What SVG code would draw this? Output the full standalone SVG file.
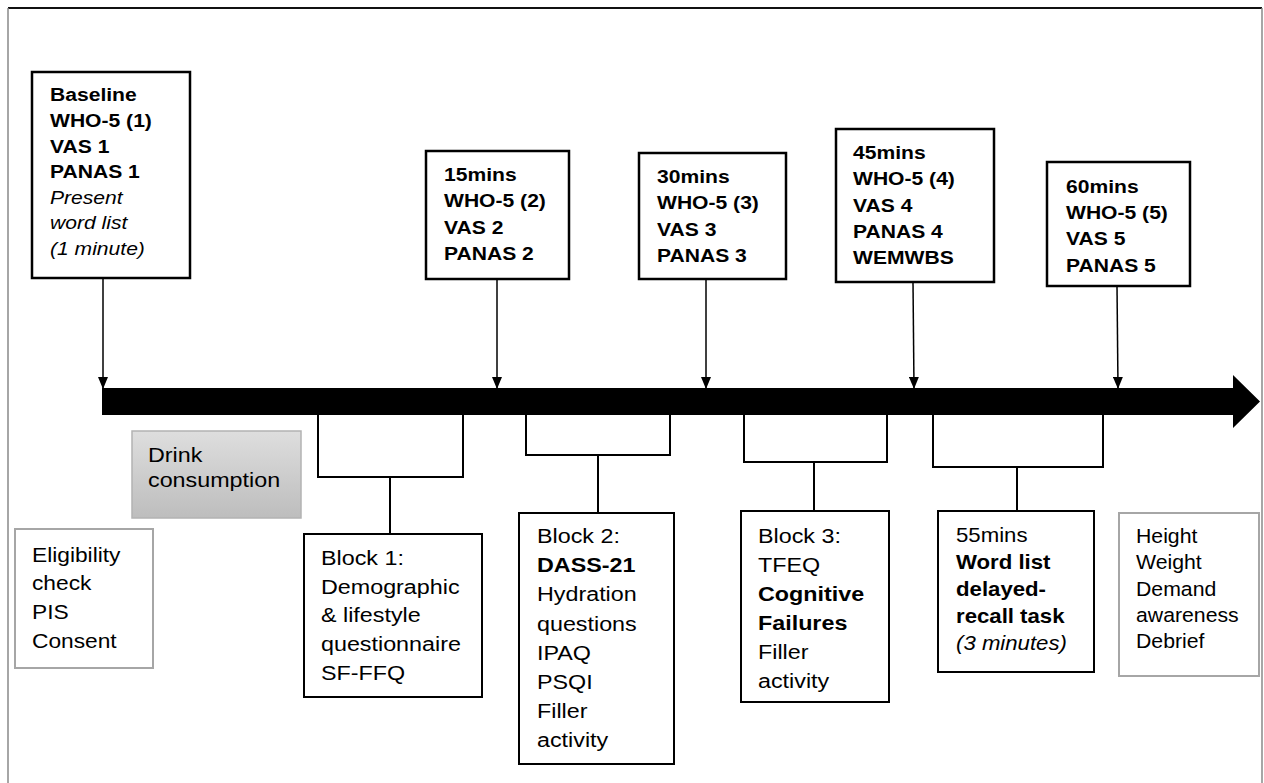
<svg xmlns="http://www.w3.org/2000/svg" width="1264" height="783" viewBox="0 0 1264 783">
<style>
.box{fill:#fff;stroke:#000;stroke-width:2.5}
.box2{fill:#fff;stroke:#000;stroke-width:2}
.gbox{fill:#fff;stroke:#a6a6a6;stroke-width:2}
.conn{fill:none;stroke:#000;stroke-width:2}
.arr{fill:none;stroke:#000;stroke-width:1.5;marker-end:url(#ah)}
text{font-family:"Liberation Sans",Arial,sans-serif;fill:#000}
.tb{font-size:19px;font-weight:bold}
.tr{font-size:21px}
.b{font-weight:bold}
.i{font-style:italic}
</style>
<defs>
<marker id="ah" viewBox="0 0 12 10" refX="12" refY="5" markerWidth="12" markerHeight="10" markerUnits="userSpaceOnUse" orient="auto">
<path d="M0,0 L12,5 L0,10 z" fill="#000"/>
</marker>
<linearGradient id="gd" x1="0" y1="0" x2="0" y2="1">
<stop offset="0" stop-color="#dedede"/>
<stop offset="1" stop-color="#bdbdbd"/>
</linearGradient>
</defs>
<rect width="1264" height="783" fill="#fff"/>
<g id="frame">
<line x1="8" y1="8" x2="1262" y2="8" stroke="#111" stroke-width="2"/>
<line x1="8" y1="8" x2="8" y2="783" stroke="#888" stroke-width="1.5"/>
<line x1="1262" y1="8" x2="1262" y2="783" stroke="#888" stroke-width="1.5"/>
</g>
<g id="timeline">
<polygon points="102,388 1233,388 1233,375 1260,401.5 1233,428 1233,415 102,415" fill="#000"/>
</g>
<g id="connectors">
<line class="arr" x1="103" y1="278" x2="103" y2="389"/>
<line class="arr" x1="497" y1="279" x2="497" y2="389"/>
<line class="arr" x1="706" y1="279" x2="706" y2="389"/>
<line class="arr" x1="913" y1="282" x2="914" y2="389"/>
<line class="arr" x1="1117" y1="286" x2="1118" y2="389"/>
<path class="conn" d="M318,415 V477 H463 V415 M390,477 V534"/>
<path class="conn" d="M526,415 V455 H670 V415 M598,455 V513"/>
<path class="conn" d="M744,415 V462 H887 V415 M814,462 V511"/>
<path class="conn" d="M933,415 V467 H1103 V415 M1017,467 V511"/>
</g>
<g id="baseline">
<rect class="box" x="32" y="72" width="158" height="206"/>
<text class="tb" transform="matrix(1.11 0 0 1 50 0)">
<tspan x="0" y="101.5">Baseline</tspan>
<tspan x="0" y="127">WHO-5 (1)</tspan>
<tspan x="0" y="152.6">VAS 1</tspan>
<tspan x="0" y="178.2">PANAS 1</tspan>
<tspan x="0" y="203.8" font-weight="normal" font-style="italic">Present</tspan>
<tspan x="0" y="229.4" font-weight="normal" font-style="italic">word list</tspan>
<tspan x="0" y="255" font-weight="normal" font-style="italic">(1 minute)</tspan>
</text>
</g>
<g id="m15">
<rect class="box" x="426" y="151" width="143" height="128"/>
<text class="tb" transform="matrix(1.11 0 0 1 444 0)">
<tspan x="0" y="181">15mins</tspan>
<tspan x="0" y="207.5">WHO-5 (2)</tspan>
<tspan x="0" y="234">VAS 2</tspan>
<tspan x="0" y="260.5">PANAS 2</tspan>
</text>
</g>
<g id="m30">
<rect class="box" x="639" y="153" width="147" height="126"/>
<text class="tb" transform="matrix(1.11 0 0 1 657 0)">
<tspan x="0" y="183">30mins</tspan>
<tspan x="0" y="209.5">WHO-5 (3)</tspan>
<tspan x="0" y="236">VAS 3</tspan>
<tspan x="0" y="262.5">PANAS 3</tspan>
</text>
</g>
<g id="m45">
<rect class="box" x="836" y="129" width="158" height="153"/>
<text class="tb" transform="matrix(1.11 0 0 1 853 0)">
<tspan x="0" y="159.3">45mins</tspan>
<tspan x="0" y="185.5">WHO-5 (4)</tspan>
<tspan x="0" y="211.7">VAS 4</tspan>
<tspan x="0" y="237.9">PANAS 4</tspan>
<tspan x="0" y="264">WEMWBS</tspan>
</text>
</g>
<g id="m60">
<rect class="box" x="1047" y="162" width="143" height="124"/>
<text class="tb" transform="matrix(1.11 0 0 1 1066 0)">
<tspan x="0" y="192.7">60mins</tspan>
<tspan x="0" y="219">WHO-5 (5)</tspan>
<tspan x="0" y="245.3">VAS 5</tspan>
<tspan x="0" y="271.7">PANAS 5</tspan>
</text>
</g>
<g id="drink">
<rect x="132" y="431" width="169" height="87" fill="url(#gd)" stroke="#b3b3b3" stroke-width="1.5"/>
<text class="tr" transform="matrix(1.11 0 0 1 148 0)">
<tspan x="0" y="462">Drink</tspan>
<tspan x="0" y="487.5">consumption</tspan>
</text>
</g>
<g id="eligibility">
<rect class="gbox" x="15" y="529" width="138" height="139"/>
<text font-size="20.5" transform="matrix(1.11 0 0 1 32 0)">
<tspan x="0" y="562">Eligibility</tspan>
<tspan x="0" y="590.5">check</tspan>
<tspan x="0" y="619">PIS</tspan>
<tspan x="0" y="648">Consent</tspan>
</text>
</g>
<g id="block1">
<rect class="box2" x="304" y="534" width="178" height="163"/>
<text class="tr" transform="matrix(1.11 0 0 1 321 0)">
<tspan x="0" y="565">Block 1:</tspan>
<tspan x="0" y="593.7">Demographic</tspan>
<tspan x="0" y="622.4">&amp; lifestyle</tspan>
<tspan x="0" y="651">questionnaire</tspan>
<tspan x="0" y="680">SF-FFQ</tspan>
</text>
</g>
<g id="block2">
<rect class="box2" x="519" y="513" width="155" height="251"/>
<text class="tr" transform="matrix(1.11 0 0 1 537 0)">
<tspan x="0" y="543.3">Block 2:</tspan>
<tspan x="0" y="572.4" class="b">DASS-21</tspan>
<tspan x="0" y="601.5">Hydration</tspan>
<tspan x="0" y="630.6">questions</tspan>
<tspan x="0" y="659.7">IPAQ</tspan>
<tspan x="0" y="688.8">PSQI</tspan>
<tspan x="0" y="717.9">Filler</tspan>
<tspan x="0" y="747">activity</tspan>
</text>
</g>
<g id="block3">
<rect class="box2" x="741" y="511" width="148" height="191"/>
<text class="tr" transform="matrix(1.11 0 0 1 758 0)">
<tspan x="0" y="543">Block 3:</tspan>
<tspan x="0" y="572">TFEQ</tspan>
<tspan x="0" y="601" class="b">Cognitive</tspan>
<tspan x="0" y="630" class="b">Failures</tspan>
<tspan x="0" y="659">Filler</tspan>
<tspan x="0" y="688">activity</tspan>
</text>
</g>
<g id="m55">
<rect class="box2" x="938" y="511" width="156" height="161"/>
<text font-size="20" transform="matrix(1.11 0 0 1 956 0)">
<tspan x="0" y="542">55mins</tspan>
<tspan x="0" y="569" class="b">Word list</tspan>
<tspan x="0" y="596" class="b">delayed-</tspan>
<tspan x="0" y="623" class="b">recall task</tspan>
<tspan x="0" y="650" class="i">(3 minutes)</tspan>
</text>
</g>
<g id="final">
<rect class="gbox" x="1119" y="513" width="140" height="163"/>
<text font-size="19.5" transform="matrix(1.09 0 0 1 1136 0)">
<tspan x="0" y="543">Height</tspan>
<tspan x="0" y="569.3">Weight</tspan>
<tspan x="0" y="595.6">Demand</tspan>
<tspan x="0" y="622">awareness</tspan>
<tspan x="0" y="648">Debrief</tspan>
</text>
</g>
</svg>
